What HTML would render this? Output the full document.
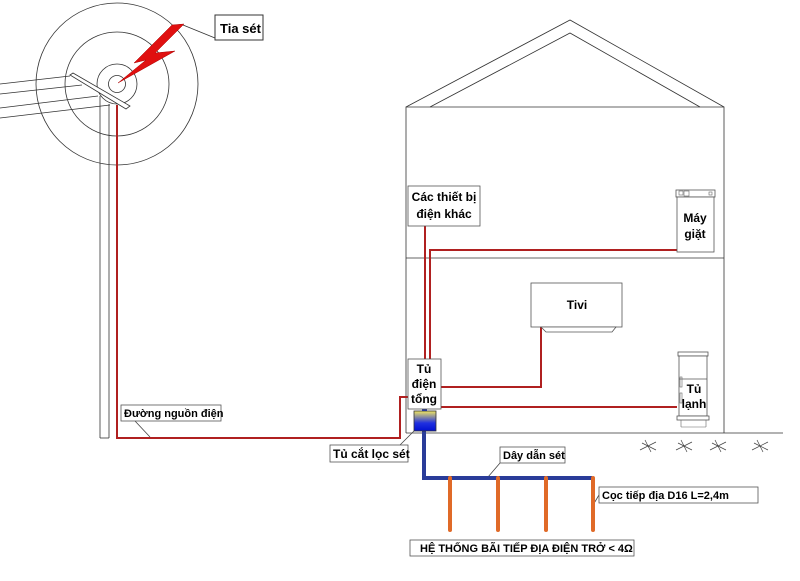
<!DOCTYPE html>
<html><head><meta charset="utf-8"><style>
body{margin:0;background:#fff;}
svg text{font-family:"Liberation Sans",Arial,sans-serif;font-weight:bold;fill:#000;}
</style></head><body>
<svg width="800" height="576" viewBox="0 0 800 576" xmlns="http://www.w3.org/2000/svg">
<defs><linearGradient id="g" x1="0" y1="0" x2="0" y2="1"><stop offset="0" stop-color="#f2e860"/><stop offset="0.6" stop-color="#2030e0"/><stop offset="1" stop-color="#0010d0"/></linearGradient></defs>
<g fill="none" stroke="#333" stroke-width="0.8">
<circle cx="117" cy="84" r="8.5"/><circle cx="117" cy="84" r="20"/><circle cx="117" cy="84" r="52"/><circle cx="117" cy="84" r="81"/>
<line x1="0" y1="84" x2="70" y2="76"/><line x1="0" y1="94" x2="82" y2="85"/><line x1="0" y1="108" x2="98" y2="96"/><line x1="0" y1="118" x2="110" y2="105"/>
<polygon points="70,75 73,73 130,106 126,109" fill="#fff"/>
<line x1="100" y1="96" x2="100" y2="438"/><line x1="109" y1="104" x2="109" y2="438"/><line x1="100" y1="438" x2="109" y2="438"/>
<polyline points="406,433 406,107 724,107 724,433"/>
<polyline points="406,107 570,20 724,107"/><polyline points="430,107 570,33 700,107"/>
<line x1="406" y1="258" x2="724" y2="258"/>
<line x1="406" y1="433" x2="783" y2="433"/>
<polyline points="183,25 215,38"/>
</g>
<polygon points="172,25 184,24 155,53 175,51 118,83 146,60 134,63" fill="#e01010" stroke="#a00" stroke-width="0.5"/>
<rect x="215" y="15" width="48" height="25" fill="#fff" stroke="#333"/><text x="220" y="33" font-size="13">Tia sét</text>
<g fill="none" stroke="#b02020" stroke-width="2">
<polyline points="117,105 117,438 400,438 400,397 408,397"/>
<line x1="425" y1="226" x2="425" y2="359"/><polyline points="430,359 430,250 677,250"/>
<polyline points="541,327 541,387 441,387"/><line x1="441" y1="407" x2="677" y2="407"/>
</g>
<g stroke="#444" stroke-width="0.8" fill="none"><line x1="135" y1="421" x2="150" y2="437"/><line x1="400" y1="445" x2="416" y2="429"/><line x1="500" y1="463" x2="488" y2="477"/><line x1="599" y1="495" x2="593" y2="505"/></g>
<polyline points="424,425 424,478 592,478" fill="none" stroke="#2a3c99" stroke-width="4"/>
<g stroke="#e06a28" stroke-width="4" stroke-linecap="round"><line x1="450" y1="478" x2="450" y2="530"/><line x1="498" y1="478" x2="498" y2="530"/><line x1="546" y1="478" x2="546" y2="530"/><line x1="593" y1="478" x2="593" y2="530"/></g>
<rect x="414" y="411" width="22" height="20" fill="url(#g)" stroke="#333" stroke-width="0.8"/>
<rect x="422" y="408" width="5" height="3" fill="#2a3c99"/>
<g fill="#fff" stroke="#555" stroke-width="0.8">
<rect x="408" y="359" width="33" height="50"/>
<rect x="408" y="186" width="72" height="40"/>
<rect x="531" y="283" width="91" height="44"/>
<polygon points="541,327 546,332 612,332 616,327"/>
<rect x="676" y="190" width="39" height="7"/><rect x="677" y="197" width="37" height="55"/>
<rect x="678" y="352" width="30" height="4"/><rect x="679" y="356" width="28" height="60"/><line x1="679" y1="379" x2="707" y2="379"/>
<rect x="677" y="416" width="32" height="4"/>
<rect x="121" y="405" width="100" height="16"/><rect x="330" y="445" width="78" height="17"/>
<rect x="500" y="447" width="65" height="16"/><rect x="599" y="487" width="159" height="16"/>
<rect x="410" y="540" width="224" height="16"/>
</g>
<g fill="none" stroke="#666" stroke-width="0.6"><rect x="679" y="191" width="4" height="4"/><rect x="684" y="191" width="5" height="5"/><rect x="709" y="192" width="3" height="3"/><line x1="681" y1="420" x2="681" y2="427"/><line x1="706" y1="420" x2="706" y2="427"/><line x1="681" y1="427" x2="706" y2="427"/><rect x="680" y="377" width="2" height="10"/><rect x="680" y="393" width="2" height="10"/></g>
<g stroke="#444" stroke-width="0.7">
<path d="M640,450 l16,-8 M642,443 l14,7 M645,440 l6,12" /><path d="M676,450 l16,-8 M678,443 l14,7 M681,440 l6,12"/><path d="M710,450 l16,-8 M712,443 l14,7 M715,440 l6,12"/><path d="M752,450 l16,-8 M754,443 l14,7 M757,440 l6,12"/>
</g>
<g font-size="12" text-anchor="middle">
<text x="424" y="373">Tủ</text><text x="424" y="388">điện</text><text x="424" y="403">tổng</text>
<text x="444" y="201">Các thiết bị</text><text x="444" y="218">điện khác</text>
<text x="577" y="309">Tivi</text>
<text x="695" y="222">Máy</text><text x="695" y="238">giặt</text>
<text x="694" y="393">Tủ</text><text x="694" y="408">lạnh</text>
</g>
<g font-size="11">
<text x="124" y="417" font-weight="normal">Đường nguồn điện</text>
<text x="333" y="458" font-size="12">Tủ cắt lọc sét</text>
<text x="503" y="459" font-weight="normal">Dây dẫn sét</text>
<text x="602" y="499" font-weight="normal">Cọc tiếp địa D16 L=2,4m</text>
<text x="420" y="552" font-weight="normal">HỆ THỐNG BÃI TIẾP ĐỊA ĐIỆN TRỞ &lt; 4Ω</text>
</g>
</svg>
</body></html>
